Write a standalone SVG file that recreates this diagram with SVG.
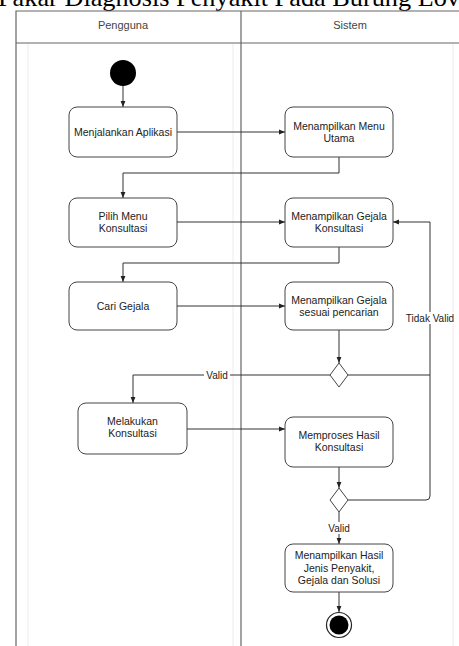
<svg xmlns="http://www.w3.org/2000/svg" width="459" height="646" viewBox="0 0 459 646">
<style>
text{font-family:"Liberation Sans",Arial,sans-serif;fill:#222;}
.title{font-family:"Liberation Serif","Times New Roman",serif;font-size:26px;fill:#000;}
.hdr{font-size:11px;text-anchor:middle;fill:#444;}
.t{font-size:10.5px;text-anchor:middle;}
.lbl{font-size:10px;text-anchor:middle;}
.box{fill:#fff;stroke:#444;stroke-width:1;}
.frame{fill:none;stroke:#666;stroke-width:1.2;}
.faint{fill:none;stroke:#ececec;stroke-width:1;}
.c{fill:none;stroke:#333;stroke-width:1;}
.bg{fill:#fff;}
</style>
<defs>
<marker id="ah" viewBox="0 0 10 10" refX="10" refY="5" markerWidth="6" markerHeight="6" orient="auto" markerUnits="userSpaceOnUse">
<path d="M0,1 L10,5 L0,9 Z" fill="#222"/>
</marker>
</defs>
<rect width="459" height="646" fill="#fff"/>
<text class="title" x="-2" y="6" textLength="462" lengthAdjust="spacingAndGlyphs">Pakar Diagnosis Penyakit Pada Burung Lov</text>
<g id="lanes">
<line class="faint" x1="28" y1="43" x2="28" y2="646"/>
<line class="faint" x1="233" y1="43" x2="233" y2="646"/>
<line class="faint" x1="453" y1="43" x2="453" y2="646"/>
<path class="frame" d="M16,646 V11 H460 M16,43 H460 M241,11 V646"/>
<text class="hdr" x="123" y="29">Pengguna</text>
<text class="hdr" x="350" y="29">Sistem</text>
</g>
<g id="connectors">
<path class="c" d="M123,86 V107" marker-end="url(#ah)"/>
<path class="c" d="M177,132 H285" marker-end="url(#ah)"/>
<path class="c" d="M339,157 V173 H123 V198" marker-end="url(#ah)"/>
<path class="c" d="M177,222 H285" marker-end="url(#ah)"/>
<path class="c" d="M339,247 V263 H123 V282" marker-end="url(#ah)"/>
<path class="c" d="M177,306 H285" marker-end="url(#ah)"/>
<path class="c" d="M339,330 V363" marker-end="url(#ah)"/>
<path class="c" d="M330,375 H133 V403" marker-end="url(#ah)"/>
<path class="c" d="M348,375 H430"/>
<path class="c" d="M187,429 H285" marker-end="url(#ah)"/>
<path class="c" d="M339,467 V488" marker-end="url(#ah)"/>
<path class="c" d="M348,500 H426 Q430,500 430,496 V222 H393" marker-end="url(#ah)"/>
<path class="c" d="M339,512 V544" marker-end="url(#ah)"/>
<path class="c" d="M339,592 V612" marker-end="url(#ah)"/>
<rect class="bg" x="204" y="369" width="26" height="12"/>
<text class="lbl" x="217" y="379">Valid</text>
<rect class="bg" x="404" y="312" width="52" height="12"/>
<text class="lbl" x="430" y="322">Tidak Valid</text>
<rect class="bg" x="326" y="522" width="26" height="12"/>
<text class="lbl" x="339" y="532">Valid</text>
</g>
<g id="start"><circle cx="123" cy="73" r="13" fill="#000"/></g>
<g id="n1"><rect class="box" x="69" y="107" width="108" height="50" rx="8"/><text class="t" x="123" y="136">Menjalankan Aplikasi</text></g>
<g id="n2"><rect class="box" x="285" y="107" width="108" height="50" rx="8"/><text class="t" x="339" y="130">Menampilkan Menu</text><text class="t" x="339" y="142">Utama</text></g>
<g id="n3"><rect class="box" x="69" y="198" width="108" height="49" rx="8"/><text class="t" x="123" y="220">Pilih Menu</text><text class="t" x="123" y="232">Konsultasi</text></g>
<g id="n4"><rect class="box" x="285" y="198" width="108" height="49" rx="8"/><text class="t" x="339" y="220">Menampilkan Gejala</text><text class="t" x="339" y="232">Konsultasi</text></g>
<g id="n5"><rect class="box" x="69" y="282" width="108" height="48" rx="8"/><text class="t" x="123" y="310">Cari Gejala</text></g>
<g id="n6"><rect class="box" x="285" y="282" width="108" height="48" rx="8"/><text class="t" x="339" y="304">Menampilkan Gejala</text><text class="t" x="339" y="316">sesuai pencarian</text></g>
<g id="d1"><path class="box" d="M339,363 L348,375 L339,387 L330,375 Z"/></g>
<g id="n7"><rect class="box" x="78" y="403" width="109" height="51" rx="8"/><text class="t" x="132.5" y="425">Melakukan</text><text class="t" x="132.5" y="437">Konsultasi</text></g>
<g id="n8"><rect class="box" x="285" y="417" width="108" height="50" rx="8"/><text class="t" x="339" y="439">Memproses Hasil</text><text class="t" x="339" y="451">Konsultasi</text></g>
<g id="d2"><path class="box" d="M339,488 L348,500 L339,512 L330,500 Z"/></g>
<g id="n9"><rect class="box" x="285" y="544" width="108" height="48" rx="8"/><text class="t" x="339" y="559">Menampilkan Hasil</text><text class="t" x="339" y="571.5">Jenis Penyakit,</text><text class="t" x="339" y="584">Gejala dan Solusi</text></g>
<g id="end"><circle cx="339" cy="625" r="12.5" fill="#fff" stroke="#222" stroke-width="1.2"/><circle cx="339" cy="625" r="9.5" fill="#000"/></g>
</svg>
